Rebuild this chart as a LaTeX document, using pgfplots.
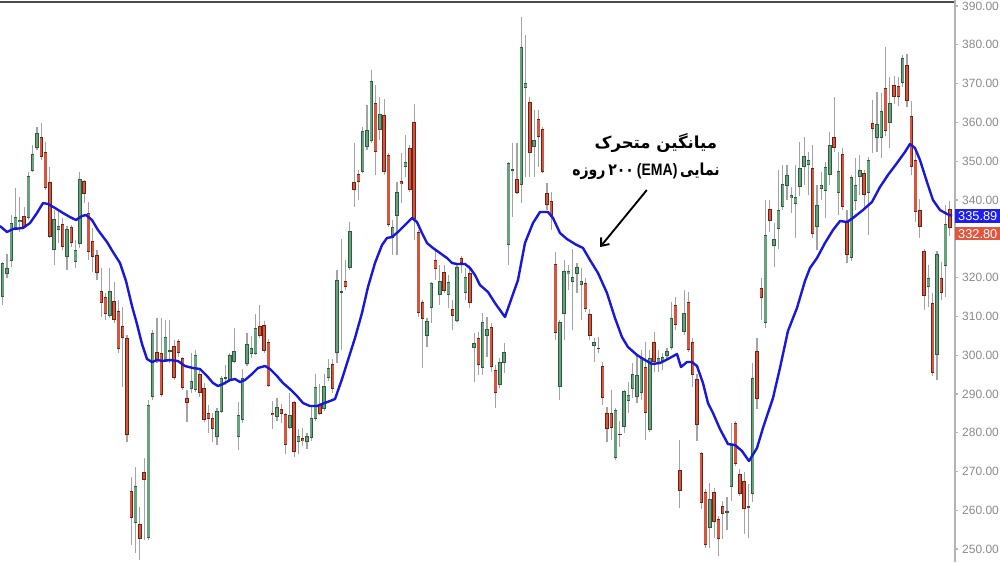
\documentclass[border=0pt]{standalone}
\usepackage{fontspec}
\setmainfont{Liberation Sans}
\newfontfamily\arabicfont[Script=Arabic]{DejaVu Sans}
\newfontfamily\latinbold{Liberation Sans}
\TeXXeTstate=1
\usepackage{graphicx}
\usepackage{pgfplots}
\pgfplotsset{compat=1.18}
\usepackage{pgfplotstable}
\usetikzlibrary{arrows.meta}
\definecolor{upfill}{HTML}{67A27D}
\definecolor{upedge}{HTML}{2E5C40}
\definecolor{dnfill}{HTML}{D5553F}
\definecolor{dnedge}{HTML}{6E2215}
\definecolor{wickc}{HTML}{A3A3A3}
\definecolor{emac}{HTML}{1818DC}
\definecolor{axgray}{HTML}{B4B4B4}
\definecolor{labgray}{HTML}{8A8A8A}
\definecolor{topc}{HTML}{4A4A4A}
\definecolor{lblue}{HTML}{1E1EF0}
\definecolor{lred}{HTML}{E0563F}

\pgfplotstableread{
i o h l c
0 314.98 324.00 312.92 323.75
1 320.91 326.07 319.88 322.46
2 324.26 336.12 322.71 334.06
3 332.77 343.08 332.25 335.60
4 334.32 340.76 331.74 334.83
5 335.86 338.18 332.77 333.03
6 335.35 347.20 334.83 346.17
7 347.46 354.17 347.20 351.85
8 353.39 358.81 352.88 357.26
9 356.23 359.84 350.30 351.07
10 352.36 354.94 342.57 343.08
11 344.63 348.49 330.19 330.45
12 327.10 337.41 323.23 335.09
13 332.25 336.89 328.90 333.28
14 333.80 335.35 327.10 327.87
15 325.29 333.28 321.94 332.51
16 333.03 333.54 327.87 328.90
17 324.00 329.67 322.46 327.10
18 328.64 347.20 327.61 345.40
19 344.89 345.14 339.21 341.53
20 336.64 339.47 324.52 326.58
21 329.42 332.77 321.43 325.29
22 325.81 327.10 319.36 321.17
23 316.53 322.46 309.82 313.43
24 314.98 316.01 309.05 310.60
25 310.08 322.46 309.57 316.53
26 313.95 318.85 308.28 309.05
27 311.37 314.21 300.54 301.58
28 307.50 312.40 291.78 304.41
29 304.41 305.19 277.60 279.40
30 264.97 268.58 251.04 258.00
31 256.72 271.16 248.98 266.26
32 256.46 260.84 247.18 252.59
33 269.86 273.47 252.33 267.80
34 252.85 288.43 252.33 287.14
35 289.20 306.47 288.43 305.70
36 300.80 309.57 297.97 298.74
37 300.54 309.57 289.20 289.72
38 298.74 309.05 298.22 304.67
39 301.06 309.05 297.97 301.20
40 302.35 303.90 293.58 294.10
41 303.64 304.15 299.51 300.54
42 299.26 299.51 291.01 291.52
43 288.94 291.01 282.76 287.65
44 291.26 300.54 290.23 293.33
45 291.01 301.32 290.49 300.03
46 295.13 296.16 289.20 290.23
47 291.52 292.81 282.76 283.27
48 285.08 287.14 279.92 283.53
49 283.79 285.08 277.60 280.95
50 278.89 286.37 276.83 285.59
51 285.33 294.61 285.08 294.10
52 294.10 297.45 292.30 294.25
53 293.58 300.54 293.07 300.03
54 298.22 306.99 297.97 301.06
55 278.89 287.91 275.54 284.56
56 283.27 296.42 282.50 294.10
57 297.71 305.70 297.19 302.87
58 300.29 304.93 299.26 301.83
59 300.29 310.60 300.00 306.99
60 307.50 312.92 304.41 304.93
61 307.76 308.79 300.54 301.06
62 303.38 304.15 291.78 292.04
63 285.08 288.17 280.95 284.56
64 284.04 288.94 283.01 286.62
65 286.11 287.40 282.50 284.82
66 284.82 285.08 274.51 276.83
67 281.21 290.23 280.95 284.56
68 287.91 288.17 273.73 275.02
69 277.60 280.95 274.51 279.15
70 278.63 281.21 276.57 277.86
71 277.60 279.92 275.80 279.15
72 278.63 286.88 277.86 283.79
73 283.53 295.13 283.01 291.78
74 287.40 292.55 284.56 284.82
75 286.11 295.13 285.59 292.04
76 294.10 299.00 293.33 296.68
77 297.71 299.00 290.23 291.26
78 300.54 321.94 297.97 319.36
79 316.27 329.93 301.32 316.40
80 319.11 324.52 316.78 317.56
81 322.46 334.32 321.94 332.00
82 344.63 354.68 338.18 342.57
83 346.69 347.72 339.99 344.63
84 347.20 358.81 346.95 357.78
85 353.65 364.48 352.88 358.03
86 355.20 373.50 354.68 370.66
87 365.00 369.63 346.43 352.36
88 358.03 366.55 355.45 362.16
89 361.90 366.03 346.43 347.20
90 351.59 352.10 333.03 333.54
91 330.19 334.83 325.81 333.03
92 335.86 344.63 325.81 342.05
93 344.89 352.10 339.21 344.11
94 348.49 356.74 345.92 349.78
95 353.39 354.17 342.05 342.57
96 360.10 364.74 329.67 335.09
97 331.74 332.25 309.82 310.86
98 313.69 314.21 296.68 309.31
99 304.93 309.57 302.09 308.79
100 312.14 318.85 308.28 318.59
101 324.52 327.61 319.36 322.20
102 315.50 323.23 312.92 319.11
103 321.43 323.23 316.01 316.53
104 315.50 320.65 312.14 318.85
105 311.89 314.21 306.47 310.08
106 308.79 323.49 308.54 322.71
107 325.04 325.55 321.17 323.75
108 316.01 322.46 314.21 320.14
109 321.17 323.23 312.14 313.43
110 301.83 305.70 293.07 303.12
111 304.41 305.96 294.87 297.45
112 296.68 310.86 294.87 308.54
113 304.93 309.82 299.51 306.73
114 307.25 308.28 295.65 296.94
115 296.16 297.45 286.37 290.23
116 292.30 299.26 291.52 298.22
117 297.97 303.12 295.39 300.80
118 328.39 349.78 323.23 349.52
119 347.72 354.68 335.60 347.85
120 345.40 354.68 341.53 341.79
121 343.85 387.16 339.21 379.43
122 368.86 382.52 345.92 370.15
123 365.25 366.55 345.92 352.10
124 353.65 363.19 345.92 355.45
125 360.87 363.19 348.49 356.23
126 358.29 358.81 346.95 347.20
127 341.79 344.37 337.41 338.70
128 339.73 342.05 332.25 335.60
129 323.49 326.58 303.90 305.70
130 291.78 309.05 288.43 308.54
131 310.60 324.52 303.90 321.68
132 320.91 323.23 316.78 321.68
133 318.85 327.35 306.47 320.14
134 320.91 323.75 316.01 322.71
135 318.07 322.46 309.05 319.11
136 318.59 319.88 311.11 311.89
137 310.60 311.89 303.90 304.93
138 302.35 304.41 298.22 303.38
139 301.83 304.67 300.54 301.70
140 297.19 298.22 287.14 288.94
141 285.08 286.62 277.60 280.95
142 285.08 291.01 278.12 281.21
143 273.47 286.37 272.96 285.85
144 279.66 283.01 276.31 279.55
145 281.47 291.01 279.92 290.75
146 288.17 293.07 285.08 289.72
147 291.26 297.97 288.94 295.13
148 289.20 300.03 287.65 294.87
149 290.23 301.32 288.43 299.26
150 296.94 303.38 278.12 285.08
151 280.69 301.32 280.18 299.26
152 303.38 305.96 295.65 298.22
153 297.97 301.32 295.65 299.26
154 298.22 300.54 296.16 299.51
155 299.77 301.83 298.74 301.06
156 301.83 313.69 301.32 309.57
157 312.92 314.98 306.47 307.76
158 270.38 278.12 260.58 264.97
159 305.96 316.78 305.18 310.86
160 313.69 316.27 300.80 301.32
161 303.38 304.41 291.78 294.87
162 293.84 295.13 277.86 281.98
163 274.76 275.02 260.33 261.87
164 264.71 265.49 250.27 251.04
165 255.43 267.03 250.27 262.91
166 264.71 265.74 252.85 256.97
167 257.75 258.52 248.21 252.59
168 261.10 262.39 252.59 259.04
169 259.55 263.42 254.91 259.68
170 266.00 282.50 262.39 276.83
171 282.50 283.01 271.41 271.93
172 269.35 270.64 263.68 264.20
173 267.54 269.86 253.88 260.33
174 260.84 266.77 252.85 260.97
175 264.20 297.97 262.13 294.10
176 301.06 304.41 286.11 288.69
177 317.30 319.88 309.05 314.72
178 308.28 339.99 306.99 330.96
179 337.67 339.99 331.74 334.57
180 328.13 334.06 322.71 329.93
181 332.51 347.72 327.35 337.41
182 338.18 349.01 337.41 344.11
183 343.60 349.01 339.99 346.43
184 340.50 343.34 336.64 341.28
185 338.96 349.01 330.19 340.76
186 343.34 354.94 341.02 348.24
187 348.49 356.23 343.85 351.33
188 349.01 352.36 341.28 350.30
189 348.24 354.17 330.19 331.22
190 333.03 343.85 327.10 338.70
191 342.82 347.20 339.99 343.85
192 342.31 349.78 335.35 348.49
193 346.43 357.52 343.85 354.17
194 356.23 366.55 352.36 353.39
195 341.79 352.36 336.12 347.46
196 351.85 353.39 337.41 338.18
197 334.32 337.41 323.75 325.81
198 325.04 346.43 324.26 345.92
199 339.73 350.81 337.41 343.85
200 345.92 351.59 341.28 347.72
201 346.95 347.72 337.41 341.28
202 341.79 351.07 330.96 350.30
203 359.84 365.77 352.10 358.29
204 355.97 367.83 352.36 359.58
205 355.97 367.57 350.81 362.93
206 368.86 379.43 356.49 357.78
207 359.84 371.70 353.39 365.00
208 369.63 371.95 364.74 366.55
209 369.38 371.70 364.22 366.55
210 370.15 377.37 369.12 376.59
211 374.79 377.63 363.96 365.51
212 361.64 365.51 346.43 348.49
213 350.30 352.88 334.32 336.89
214 337.41 340.25 330.19 333.03
215 326.84 327.35 311.63 315.24
216 317.56 323.23 312.40 319.88
217 313.43 316.01 294.61 295.39
218 300.03 326.84 293.58 326.07
219 319.88 324.00 314.21 316.01
220 322.97 338.70 314.98 333.80
221 337.67 339.73 330.71 332.80
}\candles

\pgfplotsset{
  candlebar/.style n args={2}{
    draw=none, mark=none, forget plot,
    error bars/.cd, y dir=both, y explicit, error mark=none,
    error mark options={draw=none, fill=none, opacity=0},
    error bar style={draw=#1, line width=#2, opacity=1},
    /pgfplots/.cd
  }
}

\begin{document}
\begin{tikzpicture}
\begin{axis}[
  at={(0pt,0pt)}, anchor=south west,
  scale only axis, width=716.25pt, height=421.5pt,
  xmin=-0.63, xmax=222.2, ymin=246.67, ymax=391.55,
  clip=false,
  axis line style={draw=none},
  xtick=\empty,
  ytick={250,260,...,390},
  yticklabels={250.00,260.00,270.00,280.00,290.00,300.00,310.00,320.00,,340.00,350.00,360.00,370.00,380.00,390.00},
  ytick pos=right, yticklabel pos=right,
  tick align=outside, major tick length=2.6pt,
  tick style={draw=axgray, line width=0.9pt},
  yticklabel style={font=\fontsize{9}{10}\selectfont, text=labgray, anchor=west, inner sep=0pt, xshift=2.6pt},
]
% wicks
\addplot[candlebar={wickc}{0.8pt}]
  table[x=i, y expr={(\thisrow{h}+\thisrow{l})/2}, y error expr={(\thisrow{h}-\thisrow{l})/2}] {\candles};
% up bodies
\addplot[restrict expr to domain={\thisrow{c}-\thisrow{o}}{0:1000}, candlebar={upedge}{2.6pt}]
  table[x=i, y expr={(\thisrow{o}+\thisrow{c})/2}, y error expr={max(abs(\thisrow{c}-\thisrow{o})/2,0.16)}] {\candles};
\addplot[restrict expr to domain={\thisrow{c}-\thisrow{o}}{0:1000}, candlebar={upfill}{1.7pt}]
  table[x=i, y expr={(\thisrow{o}+\thisrow{c})/2}, y error expr={max(abs(\thisrow{c}-\thisrow{o})/2-0.15,0)}] {\candles};
% down bodies
\addplot[restrict expr to domain={\thisrow{c}-\thisrow{o}}{-1000:-0.001}, candlebar={dnedge}{2.6pt}]
  table[x=i, y expr={(\thisrow{o}+\thisrow{c})/2}, y error expr={max(abs(\thisrow{c}-\thisrow{o})/2,0.16)}] {\candles};
\addplot[restrict expr to domain={\thisrow{c}-\thisrow{o}}{-1000:-0.001}, candlebar={dnfill}{1.7pt}]
  table[x=i, y expr={(\thisrow{o}+\thisrow{c})/2}, y error expr={max(abs(\thisrow{c}-\thisrow{o})/2-0.15,0)}] {\candles};
% EMA
\addplot[emac, line width=1.8pt, line join=round, mark=none] coordinates {
(-0.63,333.28) (1.00,331.74) (2.40,332.51) (4.74,332.77) (6.37,334.06) (8.00,336.64) (9.40,339.21) (10.57,338.96) (12.20,337.93) (14.07,336.64) (15.70,335.60) (17.10,334.83) (18.50,335.86) (19.44,336.12) (20.83,334.83) (22.23,332.25) (24.33,329.16) (25.74,326.58) (27.37,323.75) (28.77,319.11) (30.17,312.66) (31.33,308.02) (32.50,302.87) (33.67,299.00) (34.83,298.22) (36.00,298.74) (37.40,298.48) (39.03,298.74) (40.90,298.48) (42.53,297.19) (44.40,296.68) (46.03,296.42) (47.67,294.61) (49.07,292.81) (50.23,292.04) (51.40,292.55) (53.03,293.58) (54.20,293.84) (55.37,293.07) (56.53,293.58) (58.17,295.13) (59.57,296.68) (61.20,297.19) (62.37,296.42) (64.00,294.61) (65.40,292.81) (67.03,291.26) (68.67,289.46) (70.07,287.65) (71.70,286.88) (73.33,286.88) (74.50,287.40) (76.37,288.17) (77.54,288.69) (79.17,293.84) (80.57,298.74) (82.20,304.41) (83.83,310.86) (85.23,317.56) (86.87,323.75) (88.50,328.39) (89.66,330.19) (90.83,330.45) (92.23,331.74) (93.86,333.54) (95.50,335.35) (96.66,334.32) (97.83,331.48) (99.00,328.90) (100.40,327.61) (102.03,326.33) (103.66,325.04) (104.83,323.75) (106.00,323.49) (107.86,323.49) (109.03,322.46) (110.20,320.65) (111.36,318.07) (113.23,316.27) (114.86,313.43) (117.19,309.82) (118.83,314.98) (120.23,319.36) (121.86,328.90) (123.73,334.06) (125.36,336.89) (127.23,336.89) (128.40,335.35) (130.03,331.48) (131.66,329.93) (133.53,328.64) (135.40,327.61) (137.03,324.52) (138.90,321.17) (141.00,316.01) (142.86,309.57) (144.49,304.67) (145.89,302.09) (148.00,300.03) (149.86,298.74) (151.49,297.71) (153.36,297.97) (155.22,299.00) (157.33,300.29) (158.26,296.94) (159.66,298.22) (160.83,298.22) (162.00,297.19) (163.39,292.81) (164.56,287.65) (165.73,285.08) (167.36,280.95) (169.23,277.08) (170.86,276.83) (172.50,275.28) (174.13,272.70) (176.00,276.06) (177.39,281.21) (179.73,288.94) (181.36,296.68) (183.22,306.21) (185.32,312.14) (187.19,319.11) (188.36,322.46) (190.00,325.04) (191.86,328.90) (193.73,332.25) (195.36,334.57) (197.00,334.32) (198.39,335.35) (200.73,337.41) (202.82,339.47) (204.69,343.34) (206.56,346.43) (208.66,349.52) (210.52,352.36) (211.69,354.43) (212.86,353.39) (214.03,350.30) (215.66,344.63) (217.06,339.99) (218.69,337.41) (220.33,336.38) (221.49,335.89)
};
% frame lines
\draw[topc, line width=1.3pt] (axis cs:-0.63,391.0) -- (axis cs:222.2,391.0);
\draw[axgray, line width=1.2pt] (rel axis cs:1,0) -- (rel axis cs:1,1);
% price labels
\node[fill=lblue, text=white, anchor=west, minimum width=33.75pt, minimum height=9.8pt, inner sep=0pt, font=\fontsize{9.6}{10}\selectfont] at (axis cs:222.2,335.86) {335.89};
\node[fill=lred, text=white, anchor=west, minimum width=33.75pt, minimum height=9.8pt, inner sep=0pt, font=\fontsize{9.6}{10}\selectfont] at (axis cs:222.2,331.30) {332.80};
% annotation
\node[font=\arabicfont\bfseries\fontsize{12.4}{15}\selectfont] at (axis cs:152.4,354.68) {\beginR میانگین متحرک\endR};
\node[font=\arabicfont\bfseries\fontsize{12.4}{15}\selectfont] at (axis cs:150.1,347.46) {\scalebox{0.85}[1]{\beginR نمایی\hspace{0.2em}\beginL{\latinbold\bfseries (EMA)}\endL\hspace{0.2em}۲۰۰\hspace{0.2em}روزه\endR}};
\draw[black, line width=1.4pt, -{Straight Barb[length=5pt,width=8pt]}] (axis cs:150.3,342.57) -- (axis cs:139.4,327.87);
\end{axis}
\pgfresetboundingbox
\useasboundingbox (0pt,0pt) rectangle (750pt,421.5pt);
\end{tikzpicture}
\end{document}
